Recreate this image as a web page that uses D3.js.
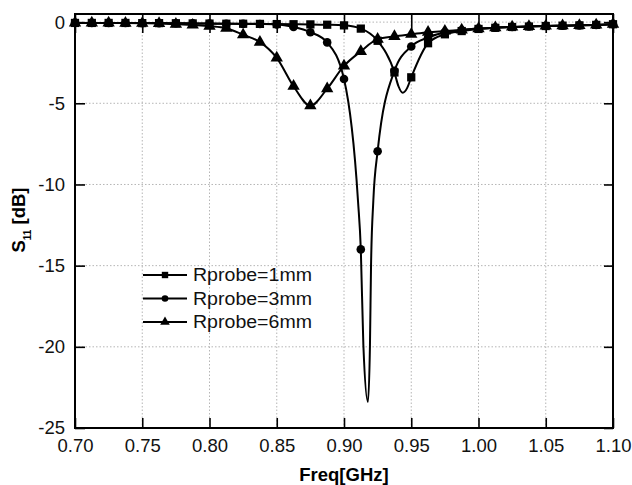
<!DOCTYPE html>
<html>
<head>
<meta charset="utf-8">
<script src="https://cdn.jsdelivr.net/npm/d3@7"></script>
<style>
  body { margin: 0; background: #fff; }
  svg { font-family: 'Liberation Sans', Arial, sans-serif; }
  .grid line { stroke: #b5b5b5; stroke-dasharray: 1.5,2; stroke-width: 1; }
  .axis path { display: none; }
  .axis line { stroke: #000; stroke-width: 1.6; }
  .axis text { font-size: 18.5px; fill: #111; }
</style>
</head>
<body>
<div id="container"></div>
<script>
// frequencies where the markers sit (GHz)
const freq = [0.7, 0.7125, 0.725, 0.7375, 0.75, 0.7625, 0.775, 0.7875, 0.8, 0.8125, 0.825,
  0.8375, 0.85, 0.8625, 0.875, 0.8875, 0.9, 0.9125, 0.925, 0.9375, 0.95, 0.9625, 0.975,
  0.9875, 1.0, 1.0125, 1.025, 1.0375, 1.05, 1.0625, 1.075, 1.0875, 1.1]

// S11 in dB at those frequencies
const r1mm = [-0.05, -0.05, -0.05, -0.05, -0.06, -0.06, -0.07, -0.08, -0.09, -0.1, -0.1,
  -0.11, -0.12, -0.13, -0.14, -0.16, -0.2, -0.4, -1.15, -3.1, -3.4, -1.3, -0.75,
  -0.55, -0.42, -0.35, -0.3, -0.27, -0.24, -0.22, -0.2, -0.17, -0.13]
const r3mm = [-0.05, -0.05, -0.05, -0.05, -0.06, -0.06, -0.07, -0.08, -0.09, -0.1, -0.11,
  -0.12, -0.14, -0.3, -0.62, -1.25, -3.5, -14.0, -7.95, -3.0, -1.5, -0.95, -0.62,
  -0.5, -0.4, -0.34, -0.3, -0.27, -0.24, -0.22, -0.2, -0.17, -0.13]
const r6mm = [-0.05, -0.05, -0.05, -0.06, -0.07, -0.08, -0.12, -0.18, -0.25, -0.38, -0.78,
  -1.23, -2.2, -3.95, -5.15, -4.1, -2.7, -1.8, -1.05, -0.88, -0.75, -0.62, -0.55,
  -0.48, -0.4, -0.34, -0.3, -0.27, -0.24, -0.22, -0.2, -0.17, -0.13]

// curve readings between markers, near the resonances
const r1mmDip = [[0.9405, -3.95], [0.9437, -4.35], [0.947, -4.05]]
const r3mmDip = [[0.9104, -11.0], [0.9144, -19.9], [0.9178, -23.4], [0.9193, -19.9],
  [0.9201, -15.0], [0.9218, -11.0]]

const seriesNames = ['Rprobe=1mm', 'Rprobe=3mm', 'Rprobe=6mm']
const xTicks = [0.7, 0.75, 0.8, 0.85, 0.9, 0.95, 1.0, 1.05, 1.1]
const yTicks = [0, -5, -10, -15, -20, -25]

let width = 632,
  height = 485,
  margin = { top: 14, right: 19, bottom: 57, left: 75 },
  bodyWidth = width - margin.left - margin.right,
  bodyHeight = height - margin.top - margin.bottom

let xScale = d3.scaleLinear().domain([0.7, 1.1]).range([0, bodyWidth]),
  yScale = d3.scaleLinear().domain([-25, 0.5]).range([bodyHeight, 0])

let series = [
  { name: seriesNames[0], vals: r1mm, extra: r1mmDip, sym: d3.symbolSquare, size: 68 },
  { name: seriesNames[1], vals: r3mm, extra: r3mmDip, sym: d3.symbolCircle, size: 58 },
  { name: seriesNames[2], vals: r6mm, extra: [], sym: d3.symbolTriangle, size: 66 }
]
series.forEach(s => {
  s.markers = freq.map((f, i) => [f, s.vals[i]])
  s.curve = s.markers.concat(s.extra).sort((a, b) => a[0] - b[0])
})

let line = d3.line()
  .x(d => xScale(d[0]))
  .y(d => yScale(d[1]))
  .curve(d3.curveMonotoneX)

let svg = d3.select('#container')
  .append('svg')
  .attr('width', width)
  .attr('height', height)

let g = svg.append('g')
  .attr('transform', 'translate(' + margin.left + ', ' + margin.top + ')')

// grid
let grid = g.append('g').attr('class', 'grid')
grid.selectAll('.gx').data(xTicks.slice(1, -1)).join('line')
  .attr('x1', d => xScale(d)).attr('x2', d => xScale(d))
  .attr('y1', 0).attr('y2', bodyHeight)
grid.selectAll('.gy').data(yTicks.slice(0, -1)).join('line')
  .attr('x1', 0).attr('x2', bodyWidth)
  .attr('y1', d => yScale(d)).attr('y2', d => yScale(d))

// axes, ticks pointing inward
g.append('g').attr('class', 'axis')
  .attr('transform', 'translate(0, ' + bodyHeight + ')')
  .call(d3.axisBottom(xScale).tickValues(xTicks).tickFormat(d3.format('.2f'))
    .tickSize(-10).tickPadding(11))
g.append('g').attr('class', 'axis')
  .call(d3.axisTop(xScale).tickValues(xTicks).tickFormat('').tickSize(-19))
g.append('g').attr('class', 'axis')
  .call(d3.axisLeft(yScale).tickValues(yTicks).tickFormat(d => String(d))
    .tickSize(-10).tickPadding(10))
g.append('g').attr('class', 'axis')
  .attr('transform', 'translate(' + bodyWidth + ', 0)')
  .call(d3.axisRight(yScale).tickValues(yTicks).tickFormat('').tickSize(-9))

g.append('rect')
  .attr('width', bodyWidth).attr('height', bodyHeight)
  .attr('fill', 'none').attr('stroke', '#000').attr('stroke-width', 2)

// curves and markers
series.forEach(s => {
  g.append('path')
    .attr('d', line(s.curve))
    .attr('fill', 'none').attr('stroke', '#000').attr('stroke-width', 2)
  g.append('g').selectAll('path').data(s.markers).join('path')
    .attr('transform', d => 'translate(' + xScale(d[0]) + ',' + yScale(d[1]) + ')')
    .attr('d', d3.symbol().type(s.sym).size(s.size))
    .attr('fill', '#000')
})

// legend
let legend = g.append('g').attr('transform', 'translate(' + (143 - margin.left) + ', ' + (275 - margin.top) + ')')
series.forEach((s, i) => {
  let row = legend.append('g').attr('transform', 'translate(0, ' + (i * 23.5) + ')')
  row.append('line').attr('x1', 0).attr('x2', 44).attr('stroke', '#000').attr('stroke-width', 2)
  row.append('path').attr('transform', 'translate(22, 0)')
    .attr('d', d3.symbol().type(s.sym).size(s.size * 0.6)).attr('fill', '#000')
  row.append('text').text(s.name)
    .attr('x', 50).attr('dy', '0.36em')
    .attr('font-size', 17.5).attr('textLength', 119).attr('lengthAdjust', 'spacingAndGlyphs')
    .attr('fill', '#111')
})

// axis titles
svg.append('text')
  .text('Freq[GHz]')
  .attr('x', margin.left + xScale(0.9))
  .attr('y', 480.5)
  .attr('text-anchor', 'middle')
  .attr('font-size', 18.5).attr('font-weight', 'bold')

let yTitle = svg.append('text')
  .attr('transform', 'translate(25, 220) rotate(-90)')
  .attr('text-anchor', 'middle')
  .attr('font-size', 18.5).attr('font-weight', 'bold')
yTitle.append('tspan').text('S')
yTitle.append('tspan').text('11').attr('font-size', 10).attr('dy', 6)
yTitle.append('tspan').text(' [dB]').attr('dy', -6)
</script>
</body>
</html>
